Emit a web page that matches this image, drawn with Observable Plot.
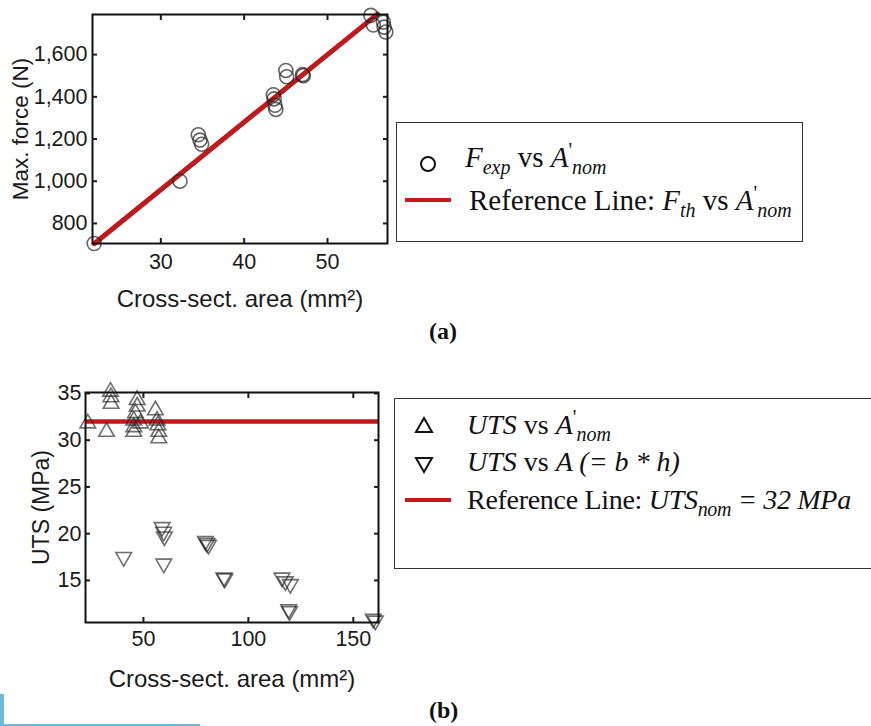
<!DOCTYPE html>
<html>
<head>
<meta charset="utf-8">
<script src="https://cdn.jsdelivr.net/npm/d3@7"></script>
<script src="https://cdn.jsdelivr.net/npm/@observablehq/plot@0.6"></script>
<style>
  html, body { margin: 0; padding: 0; background: #fff; }
  #page { position: relative; width: 871px; height: 726px; overflow: hidden; background: #fff; }
  .chart { position: absolute; }
  .legend { position: absolute; border: 1.5px solid #333; background: #fff;
            font-family: "Liberation Serif", "Times New Roman", serif; color: #111; font-size: 29px; }
  .row { position: absolute; white-space: nowrap; line-height: 1; }
  .sym { position: absolute; }
  .it { font-style: italic; }
  .sub { font-style: italic; font-size: 20px; position: relative; top: 7px; }
  .sup { font-size: 20px; position: relative; top: -10px; }
  .panel { position: absolute; font-family: "Liberation Serif", "Times New Roman", serif; font-weight: bold; font-size: 24px; color: #111; }
</style>
</head>
<body>
<div id="page">
  <div id="chartA" class="chart" style="left:0px; top:0px;"></div>
  <div id="chartB" class="chart" style="left:0px; top:370px;"></div>

  <div class="legend" style="left:396px; top:122px; width:405px; height:118px;">
    <svg class="sym" style="left:20px; top:30px;" width="22" height="22"><circle cx="11" cy="11" r="7" fill="none" stroke="#111" stroke-width="2"/></svg>
    <div class="row" style="left:68px; top:20px;"><span class="it">F</span><span class="sub">exp</span> vs <span class="it">A</span><span class="sup">'</span><span class="sub">nom</span></div>
    <svg class="sym" style="left:8px; top:72px;" width="48" height="10"><line x1="0" x2="46" y1="5" y2="5" stroke="#c8161d" stroke-width="4"/></svg>
    <div class="row" style="left:72px; top:63px;">Reference Line: <span class="it">F</span><span class="sub">th</span> vs <span class="it">A</span><span class="sup">'</span><span class="sub">nom</span></div>
  </div>

  <div class="legend" style="left:394px; top:398px; width:490px; height:169px; font-size:28px;">
    <svg class="sym" style="left:18px; top:16px;" width="22" height="22"><path d="M11,3 L19,17 L3,17 Z" fill="none" stroke="#111" stroke-width="2"/></svg>
    <div class="row" style="left:72px; top:12px;"><span class="it">UTS</span> vs <span class="it">A</span><span class="sup">'</span><span class="sub">nom</span></div>
    <svg class="sym" style="left:18px; top:54px;" width="22" height="22"><path d="M3,5 L19,5 L11,19 Z" fill="none" stroke="#111" stroke-width="2"/></svg>
    <div class="row" style="left:72px; top:49px;"><span class="it">UTS</span> vs <span class="it">A (= b * h)</span></div>
    <svg class="sym" style="left:10px; top:96px;" width="48" height="10"><line x1="0" x2="46" y1="5" y2="5" stroke="#c8161d" stroke-width="4"/></svg>
    <div class="row" style="left:72px; top:87px; letter-spacing:-0.3px;">Reference Line: <span class="it">UTS</span><span class="sub">nom</span> <span class="it">= 32 MPa</span></div>
  </div>

  <div class="panel" style="left:429px; top:318px;">(a)</div>
  <div class="panel" style="left:429px; top:697px;">(b)</div>

  <div style="position:absolute; left:0; top:694px; width:4px; height:32px; background:#6db9da;"></div>
  <div style="position:absolute; left:0; top:724px; width:200px; height:2px; background:#6db9da;"></div>
</div>
<script>
// ---- Panel (a): Max. force vs cross-sectional area ----
const forceArea = [22, 32.3, 34.5, 34.7, 34.9, 43.5, 43.6, 43.7, 43.8, 45.0, 45.1, 47.0, 47.1, 55.2, 55.5, 56.7, 56.8, 57.0];
const forceValue = [705, 1000, 1220, 1195, 1175, 1410, 1390, 1360, 1340, 1525, 1495, 1505, 1500, 1786, 1740, 1754, 1730, 1707];
const refForceArea = [22, 56];
const refForceValue = [704, 1792];
const forceXTicks = [30, 40, 50];
const forceYTicks = [800, 1000, 1200, 1400, 1600];

// ---- Panel (b): UTS vs cross-sectional area ----
const utsNomArea = [23.5, 32.4, 34.3, 34.5, 34.6, 47.0, 47.0, 46.2, 45.4, 45.4, 45.4, 48.6, 55.7, 56.5, 56.9, 57.3, 57.3];
const utsNomValue = [31.8, 30.9, 35.2, 34.6, 33.9, 34.3, 33.6, 32.9, 32.1, 31.4, 30.9, 31.8, 33.2, 32.1, 31.6, 30.9, 30.2];
const utsBhArea = [40.6, 58.9, 59.6, 60.0, 59.7, 79.5, 80.3, 81.0, 88.3, 88.8, 116.0, 117.6, 120.0, 119.2, 119.6, 160.5, 159.5];
const utsBhValue = [17.5, 20.7, 20.2, 19.7, 16.8, 19.2, 19.0, 18.8, 15.3, 15.2, 15.3, 14.9, 14.6, 11.9, 11.7, 10.7, 10.9];
const utsRef = [32];
const utsXTicks = [50, 100, 150];
const utsYTicks = [15, 20, 25, 30, 35];

const forcePts = forceArea.map((a, i) => ({a, f: forceValue[i]}));
const refForce = refForceArea.map((a, i) => ({a, f: refForceValue[i]}));
const upPts = utsNomArea.map((a, i) => ({a, u: utsNomValue[i]}));
const dnPts = utsBhArea.map((a, i) => ({a, u: utsBhValue[i]}));

const baseStyle = {fontFamily: "'Liberation Sans', Arial, sans-serif", fontSize: "21.5px", color: "#1a1a1a", background: "transparent", overflow: "visible"};
const noText = () => "";
const inwardTicks = (xt, yt) => [
  Plot.axisX({anchor: "bottom", ticks: xt, tickSize: 5, dy: -5, tickFormat: noText, label: null, strokeWidth: 2}),
  Plot.axisX({anchor: "top", ticks: xt, tickSize: 5, dy: 5, tickFormat: noText, label: null, strokeWidth: 2}),
  Plot.axisY({anchor: "left", ticks: yt, tickSize: 5, dx: 5, tickFormat: noText, label: null, strokeWidth: 2}),
  Plot.axisY({anchor: "right", ticks: yt, tickSize: 5, dx: -5, tickFormat: noText, label: null, strokeWidth: 2})
];

const chartA = Plot.plot({
  width: 395, height: 320,
  marginLeft: 92, marginRight: 8, marginTop: 14, marginBottom: 77,
  style: baseStyle,
  x: {domain: [21.8, 57.2]},
  y: {domain: [705, 1790]},
  marks: [
    Plot.line(refForce, {x: "a", y: "f", stroke: "#bf181d", strokeWidth: 5}),
    Plot.dot(forcePts, {x: "a", y: "f", r: 7, stroke: "#222", strokeOpacity: 0.7, strokeWidth: 1.6}),
    Plot.frame({stroke: "#111", strokeWidth: 2}),
    ...inwardTicks(forceXTicks, forceYTicks),
    Plot.axisX({anchor: "bottom", ticks: forceXTicks, tickSize: 0, tickPadding: 10, label: null}),
    Plot.axisX({anchor: "bottom", ticks: [], label: "Cross-sect. area (mm²)", labelAnchor: "center", labelOffset: 63, labelArrow: "none", fontSize: 24}),
    Plot.axisY({anchor: "left", ticks: forceYTicks, tickSize: 0, tickPadding: 5, tickFormat: d3.format(","), label: null}),
    Plot.axisY({anchor: "left", ticks: [], label: "Max. force (N)", labelAnchor: "center", labelOffset: 80, labelArrow: "none", fontSize: 22.5})
  ]
});
document.getElementById("chartA").appendChild(chartA);

const chartB = Plot.plot({
  width: 385, height: 330,
  marginLeft: 85, marginRight: 7, marginTop: 22, marginBottom: 78,
  style: baseStyle,
  x: {domain: [22.4, 162]},
  y: {domain: [10.5, 35.1]},
  marks: [
    Plot.ruleY(utsRef, {stroke: "#bf181d", strokeWidth: 4.5}),
    Plot.dot(upPts, {x: "a", y: "u", symbol: "triangle", r: 5.8, stroke: "#222", strokeOpacity: 0.65, strokeWidth: 1.6}),
    Plot.dot(dnPts, {x: "a", y: "u", symbol: "triangle", rotate: 180, r: 5.8, stroke: "#222", strokeOpacity: 0.65, strokeWidth: 1.6}),
    Plot.frame({stroke: "#111", strokeWidth: 2}),
    ...inwardTicks(utsXTicks, utsYTicks),
    Plot.axisX({anchor: "bottom", ticks: utsXTicks, tickSize: 0, tickPadding: 8, label: null}),
    Plot.axisX({anchor: "bottom", ticks: [], label: "Cross-sect. area (mm²)", labelAnchor: "center", labelOffset: 64, labelArrow: "none", fontSize: 24}),
    Plot.axisY({anchor: "left", ticks: utsYTicks, tickSize: 0, tickPadding: 4, label: null}),
    Plot.axisY({anchor: "left", ticks: [], label: "UTS (MPa)", labelAnchor: "center", labelOffset: 53, labelArrow: "none", fontSize: 23})
  ]
});
document.getElementById("chartB").appendChild(chartB);
</script>
</body>
</html>
